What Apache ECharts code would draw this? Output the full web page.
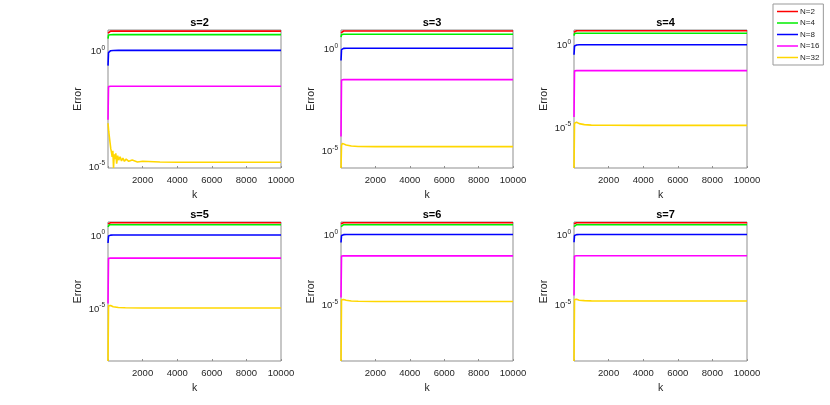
<!DOCTYPE html>
<html>
<head>
<meta charset="utf-8">
<script src="https://cdn.jsdelivr.net/npm/echarts@6/dist/echarts.min.js"></script>
<style>
html,body{margin:0;padding:0;background:#fff;}
#c{width:830px;height:405px;}
</style>
</head>
<body>
<div id="c"></div>
<script>
// ---------------- data ----------------
const seriesNames = ['N=2', 'N=4', 'N=8', 'N=16', 'N=32'];
const panelTitles = ['s=2', 's=3', 's=4', 's=5', 's=6', 's=7'];
const xTicks = [2000, 4000, 6000, 8000, 10000];
const yTickExponents = [0, -5];

// sampled iterations k (shared by most curves)
const kGrid = [1, 30, 80, 150, 300, 600, 1000, 2000, 4000, 6000, 8000, 10000];

// s=2
const s2_N2  = [5.6, 6.7, 6.8, 6.8, 6.8, 6.8, 6.8, 6.8, 6.8, 6.8, 6.8, 6.8];
const s2_N4  = [3.2, 4.6, 4.7, 4.75, 4.8, 4.8, 4.8, 4.8, 4.8, 4.8, 4.8, 4.8];
const s2_N8  = [0.22, 0.8, 0.93, 0.97, 0.99, 1.0, 1.0, 1.0, 1.0, 1.0, 1.0, 1.0];
const s2_N16 = [0.001, 0.027, 0.028, 0.028, 0.028, 0.028, 0.028, 0.028, 0.028, 0.028, 0.028, 0.028];
const s2_N32_k = [1, 40, 80, 120, 160, 200, 240, 280, 320, 360, 400, 450, 500, 560, 620, 700, 780, 860, 950, 1050, 1200, 1400, 1700, 2000, 3000, 4000, 6000, 8000, 10000];
const s2_N32 = [7.1e-4, 3.2e-4, 1.8e-4, 1.0e-4, 5.6e-5, 4.0e-5, 2.5e-5, 4.5e-5, 8.2e-6, 3.2e-5, 2.0e-5, 3.5e-5, 1.26e-5, 2.8e-5, 1.8e-5, 2.5e-5, 1.66e-5, 2.2e-5, 1.6e-5, 2.0e-5, 1.6e-5, 1.8e-5, 1.5e-5, 1.6e-5, 1.48e-5, 1.45e-5, 1.45e-5, 1.45e-5, 1.45e-5];

// s=3
const s3_N2  = [5.6, 6.8, 6.9, 6.9, 6.9, 6.9, 6.9, 6.9, 6.9, 6.9, 6.9, 6.9];
const s3_N4  = [3.5, 4.6, 4.75, 4.8, 4.8, 4.8, 4.8, 4.8, 4.8, 4.8, 4.8, 4.8];
const s3_N8  = [0.25, 0.85, 0.95, 0.98, 1.0, 1.0, 1.0, 1.0, 1.0, 1.0, 1.0, 1.0];
const s3_N16 = [5e-5, 0.028, 0.0295, 0.0295, 0.0295, 0.0295, 0.0295, 0.0295, 0.0295, 0.0295, 0.0295, 0.0295];
const s3_N32 = [1.45e-6, 1.8e-5, 2.3e-5, 2.2e-5, 1.9e-5, 1.7e-5, 1.62e-5, 1.6e-5, 1.6e-5, 1.6e-5, 1.6e-5, 1.6e-5];

// s=4
const s4_N2  = [5.8, 7.0, 7.1, 7.1, 7.1, 7.1, 7.1, 7.1, 7.1, 7.1, 7.1, 7.1];
const s4_N4  = [3.6, 4.9, 5.0, 5.0, 5.0, 5.0, 5.0, 5.0, 5.0, 5.0, 5.0, 5.0];
const s4_N8  = [0.25, 0.85, 0.95, 0.98, 1.0, 1.0, 1.0, 1.0, 1.0, 1.0, 1.0, 1.0];
const s4_N16 = [4e-5, 0.026, 0.027, 0.027, 0.027, 0.027, 0.027, 0.027, 0.027, 0.027, 0.027, 0.027];
const s4_N32 = [3.2e-8, 1.7e-5, 2.1e-5, 1.95e-5, 1.6e-5, 1.4e-5, 1.3e-5, 1.27e-5, 1.26e-5, 1.26e-5, 1.26e-5, 1.26e-5];

// s=5
const s5_N2  = [5.8, 6.9, 6.95, 6.95, 6.95, 6.95, 6.95, 6.95, 6.95, 6.95, 6.95, 6.95];
const s5_N4  = [3.6, 4.9, 5.0, 5.0, 5.0, 5.0, 5.0, 5.0, 5.0, 5.0, 5.0, 5.0];
const s5_N8  = [0.28, 0.85, 0.95, 0.98, 1.0, 1.0, 1.0, 1.0, 1.0, 1.0, 1.0, 1.0];
const s5_N16 = [2e-5, 0.025, 0.026, 0.026, 0.026, 0.026, 0.026, 0.026, 0.026, 0.026, 0.026, 0.026];
const s5_N32 = [2.3e-9, 1.4e-5, 1.6e-5, 1.45e-5, 1.2e-5, 1.08e-5, 1.03e-5, 1.0e-5, 1.0e-5, 1.0e-5, 1.0e-5, 1.0e-5];

// s=6
const s6_N2  = [5.8, 6.9, 7.0, 7.0, 7.0, 7.0, 7.0, 7.0, 7.0, 7.0, 7.0, 7.0];
const s6_N4  = [3.6, 4.9, 5.0, 5.0, 5.0, 5.0, 5.0, 5.0, 5.0, 5.0, 5.0, 5.0];
const s6_N8  = [0.27, 0.85, 0.95, 0.98, 1.0, 1.0, 1.0, 1.0, 1.0, 1.0, 1.0, 1.0];
const s6_N16 = [3.2e-5, 0.029, 0.030, 0.030, 0.030, 0.030, 0.030, 0.030, 0.030, 0.030, 0.030, 0.030];
const s6_N32 = [9.3e-10, 2.2e-5, 2.5e-5, 2.3e-5, 2.0e-5, 1.8e-5, 1.7e-5, 1.66e-5, 1.66e-5, 1.66e-5, 1.66e-5, 1.66e-5];

// s=7
const s7_N2  = [5.8, 6.9, 7.0, 7.0, 7.0, 7.0, 7.0, 7.0, 7.0, 7.0, 7.0, 7.0];
const s7_N4  = [3.6, 4.9, 5.0, 5.0, 5.0, 5.0, 5.0, 5.0, 5.0, 5.0, 5.0, 5.0];
const s7_N8  = [0.28, 0.85, 0.95, 0.98, 1.0, 1.0, 1.0, 1.0, 1.0, 1.0, 1.0, 1.0];
const s7_N16 = [4.4e-5, 0.029, 0.030, 0.030, 0.030, 0.030, 0.030, 0.030, 0.030, 0.030, 0.030, 0.030];
const s7_N32 = [8.9e-10, 2.2e-5, 2.5e-5, 2.3e-5, 2.0e-5, 1.85e-5, 1.78e-5, 1.74e-5, 1.74e-5, 1.74e-5, 1.74e-5, 1.74e-5];

// ---------------- build ----------------
const panels = [
  [[kGrid, s2_N2], [kGrid, s2_N4], [kGrid, s2_N8], [kGrid, s2_N16], [s2_N32_k, s2_N32]],
  [[kGrid, s3_N2], [kGrid, s3_N4], [kGrid, s3_N8], [kGrid, s3_N16], [kGrid, s3_N32]],
  [[kGrid, s4_N2], [kGrid, s4_N4], [kGrid, s4_N8], [kGrid, s4_N16], [kGrid, s4_N32]],
  [[kGrid, s5_N2], [kGrid, s5_N4], [kGrid, s5_N8], [kGrid, s5_N16], [kGrid, s5_N32]],
  [[kGrid, s6_N2], [kGrid, s6_N4], [kGrid, s6_N8], [kGrid, s6_N16], [kGrid, s6_N32]],
  [[kGrid, s7_N2], [kGrid, s7_N4], [kGrid, s7_N8], [kGrid, s7_N16], [kGrid, s7_N32]]
];
const colors = ['#ff0000', '#00ee00', '#0000ff', '#ff00ff', '#ffd700'];

const lefts = [108, 341, 574];
const widths = [173, 172, 173];
const tops = [30, 222];
const heights = [138, 139];
const titleTops = [12, 204];

const grids = [], xAxes = [], yAxes = [], titles = [], series = [];
const textColor = '#262626';
const boxColor = '#8f8f8f';
const font = 'Liberation Sans, Arial, sans-serif';

panels.forEach((panel, i) => {
  const col = i % 3, row = Math.floor(i / 3);
  grids.push({
    left: lefts[col], top: tops[row], width: widths[col], height: heights[row],
    show: true, borderColor: boxColor, borderWidth: 1, backgroundColor: '#fff',
    containLabel: false, outerBoundsMode: 'none'
  });
  titles.push({
    text: panelTitles[i], left: lefts[col] + widths[col] / 2, top: titleTops[row],
    textAlign: 'center',
    textStyle: { fontFamily: font, fontSize: 11, fontWeight: 'bold', color: '#000' }
  });
  xAxes.push({
    type: 'value', gridIndex: i, min: 0, max: 10000, interval: 2000,
    name: 'k', nameLocation: 'middle', nameGap: 22,
    nameTextStyle: { fontFamily: font, fontSize: 10.5, color: textColor },
    axisLine: { show: false },
    axisTick: { show: true, inside: true, length: 2, lineStyle: { color: boxColor } },
    splitLine: { show: false },
    axisLabel: {
      fontFamily: font, fontSize: 9.5, color: textColor, margin: 7,
      formatter: v => (xTicks.indexOf(v) >= 0 ? String(v) : '')
    }
  });
  yAxes.push({
    type: 'log', logBase: 10, gridIndex: i,
    min: 'dataMin', max: v => v.max * 1.12,
    name: 'Error', nameLocation: 'middle', nameGap: 24,
    nameTextStyle: { fontFamily: font, fontSize: 10.5, color: textColor },
    axisLine: { show: false },
    axisTick: { show: false },
    splitLine: { show: false },
    minorTick: { show: false },
    axisLabel: {
      margin: 3, color: textColor,
      showMinLabel: true, showMaxLabel: true,
      formatter: v => {
        const e = Math.log10(v), r = Math.round(e);
        if (Math.abs(e - r) > 1e-6 || yTickExponents.indexOf(r) < 0) return '';
        return '{b|10}{s|' + (r < 0 ? '-' : '') + Math.abs(r) + '}';
      },
      rich: {
        b: { fontFamily: font, fontSize: 9.5, color: textColor, lineHeight: 12, verticalAlign: 'bottom' },
        s: { fontFamily: font, fontSize: 6.5, color: textColor, lineHeight: 12, verticalAlign: 'top' }
      }
    }
  });
  panel.forEach((pair, j) => {
    const ks = pair[0], vals = pair[1];
    series.push({
      name: seriesNames[j], type: 'line', xAxisIndex: i, yAxisIndex: i,
      data: ks.map((k, n) => [k, vals[n]]),
      symbol: 'none', showSymbol: false, clip: true,
      lineStyle: { color: colors[j], width: 1.6 },
      itemStyle: { color: colors[j] },
      emphasis: { disabled: true }, silent: true
    });
  });
});

const chart = echarts.init(document.getElementById('c'), null, { renderer: 'canvas' });
chart.setOption({
  animation: false,
  backgroundColor: '#fff',
  title: titles,
  grid: grids,
  xAxis: xAxes,
  yAxis: yAxes,
  series: series,
  legend: {
    data: seriesNames.map((n, j) => ({ name: n, icon: 'rect', itemStyle: { color: colors[j] } })),
    orient: 'vertical', left: 773, top: 4,
    itemWidth: 21, itemHeight: 1.5, itemGap: 2.5,
    padding: [3, 4, 3, 4],
    borderColor: '#999', borderWidth: 1, backgroundColor: '#fff',
    textStyle: { fontFamily: font, fontSize: 8, color: textColor, lineHeight: 9, padding: [0, 0, 0, -3] },
    selectedMode: false
  }
});
</script>
</body>
</html>
